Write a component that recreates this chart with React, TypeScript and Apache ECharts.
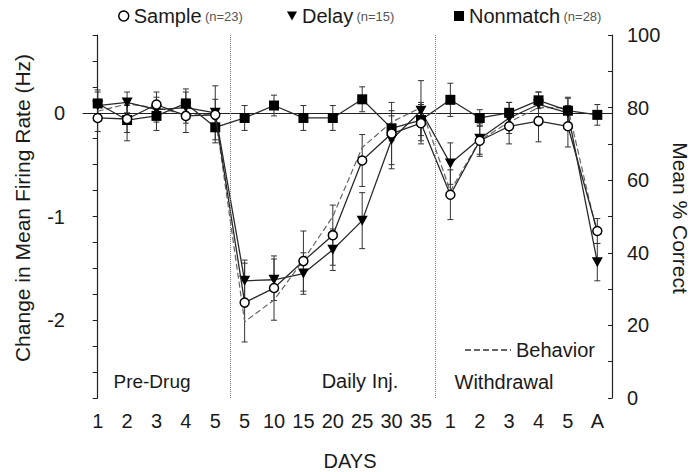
import React, { useEffect, useRef } from 'react';
import * as echarts from 'echarts';

const dayLabels = ['1', '2', '3', '4', '5', '5', '10', '15', '20', '25', '30', '35', '1', '2', '3', '4', '5', 'A'];

const sampleMean = [-0.05, -0.06, 0.08, -0.03, -0.02, -1.83, -1.69, -1.43, -1.18, -0.46, -0.2, -0.1, -0.79, -0.27, -0.13, -0.08, -0.13, -1.14];
const sampleErr = [0.13, 0.13, 0.12, 0.16, 0.15, 0.38, 0.31, 0.29, 0.29, 0.25, 0.3, 0.2, 0.24, 0.15, 0.17, 0.2, 0.2, 0.12];

const delayMean = [0.07, 0.1, 0.03, 0.05, 0.0, -1.62, -1.61, -1.55, -1.32, -1.04, -0.26, 0.02, -0.49, -0.25, -0.05, 0.08, 0.0, -1.44];
const delayErr = [0.13, 0.1, 0.12, 0.15, 0.26, 0.2, 0.2, 0.2, 0.2, 0.27, 0.28, 0.29, 0.2, 0.15, 0.15, 0.12, 0.15, 0.18];

const nonmatchMean = [0.09, -0.07, -0.03, 0.09, -0.14, -0.05, 0.07, -0.05, -0.05, 0.13, -0.15, -0.07, 0.125, -0.05, 0.0, 0.12, 0.02, -0.02];
const nonmatchErr = [0.13, 0.2, 0.14, 0.14, 0.15, 0.12, 0.1, 0.12, 0.12, 0.12, 0.12, 0.15, 0.16, 0.08, 0.1, 0.08, 0.12, 0.1];

const behaviorPct = [79, 81, 80, 78, 78, 21, 27, 38, 50, 69, 76, 80, 57, 71, 76, 80, 80, 45];

const groupNames = ['Sample', 'Delay', 'Nonmatch'];
const groupSizes = [23, 15, 28];
const phaseLabels = ['Pre-Drug', 'Daily Inj.', 'Withdrawal'];
const phaseBreaks = [4.5, 11.5];

const FONT = 'Liberation Sans, Arial, Helvetica, sans-serif';
const INK = '#1a1a1a';
const TRI_DOWN = 'path://M0,0L10,0L5,9Z';

export default function App() {
  const ref = useRef<HTMLDivElement>(null);

  useEffect(() => {
    const chart = echarts.init(ref.current!, null, { renderer: 'svg' });

    const errSeries = (name: string, mean: number[], err: number[]) => ({
      type: 'custom',
      name: name + ' SEM',
      xAxisIndex: 0,
      yAxisIndex: 0,
      z: 1,
      silent: true,
      data: mean.map((m, i) => [i, m - err[i], m + err[i]]),
      encode: { x: 0, y: [1, 2] },
      renderItem: (_p: any, api: any) => {
        const x = api.value(0);
        const lo = api.coord([x, api.value(1)]);
        const hi = api.coord([x, api.value(2)]);
        const c = 3;
        const st = { stroke: '#333', lineWidth: 1 };
        return {
          type: 'group',
          children: [
            { type: 'line', shape: { x1: lo[0], y1: lo[1], x2: hi[0], y2: hi[1] }, style: st },
            { type: 'line', shape: { x1: lo[0] - c, y1: lo[1], x2: lo[0] + c, y2: lo[1] }, style: st },
            { type: 'line', shape: { x1: hi[0] - c, y1: hi[1], x2: hi[0] + c, y2: hi[1] }, style: st },
          ],
        };
      },
    });

    const lineStyle = { color: '#2a2a2a', width: 1.3 };

    const legendFor = (idx: number, left: number, icon: string, itemStyle: any) => ({
      left,
      top: 1,
      itemWidth: 10,
      itemHeight: 10,
      itemGap: 4,
      selectedMode: false,
      data: [{ name: groupNames[idx], icon, itemStyle }],
      formatter: (n: string) => `{n|${n}} {s|(n=${groupSizes[idx]})}`,
      textStyle: {
        color: INK,
        fontFamily: FONT,
        rich: {
          n: { fontSize: 20, fontFamily: FONT, color: INK },
          s: { fontSize: 13, fontFamily: FONT, color: '#555' },
        },
      },
    });

    const option: any = {
      animation: false,
      grid: { left: 83, right: 83, top: 35, bottom: 74, containLabel: false },
      legend: [
        legendFor(0, 113, 'circle', { color: '#fff', borderColor: '#000', borderWidth: 1.5 }),
        legendFor(1, 282, TRI_DOWN, { color: '#000', borderWidth: 0 }),
        legendFor(2, 449, 'rect', { color: '#000', borderWidth: 0 }),
        {
          left: 459,
          top: 335,
          itemWidth: 46,
          itemHeight: 10,
          itemGap: 10,
          selectedMode: false,
          itemStyle: { opacity: 0 },
          data: ['Behavior'],
          textStyle: { fontSize: 20, fontFamily: FONT, color: INK },
        },
      ],
      xAxis: [
        {
          type: 'category',
          data: dayLabels,
          boundaryGap: true,
          axisLine: { lineStyle: { color: '#222', width: 1.2 } },
          axisTick: { alignWithLabel: true, length: 6, lineStyle: { color: '#222' } },
          axisLabel: { interval: 0, fontSize: 20, fontFamily: FONT, color: INK, margin: 13 },
          splitLine: { show: false },
        },
        { type: 'value', min: -0.5, max: 17.5, show: false },
      ],
      yAxis: [
        {
          type: 'value',
          min: -2.75,
          max: 0.75,
          interval: 0.25,
          axisLine: { show: true, lineStyle: { color: '#222', width: 1.2 } },
          axisTick: { show: true, length: 5, lineStyle: { color: '#222' } },
          axisLabel: {
            fontSize: 20,
            fontFamily: FONT,
            color: INK,
            margin: 18,
            formatter: (v: number) => (Math.abs(v - Math.round(v)) < 1e-6 ? String(Math.round(v)) : ''),
          },
          splitLine: { show: false },
        },
        {
          type: 'value',
          position: 'right',
          min: 0,
          max: 100,
          interval: 10,
          axisLine: { show: true, lineStyle: { color: '#222', width: 1.2 } },
          axisTick: { show: true, inside: true, length: 4, lineStyle: { color: '#222' } },
          axisLabel: {
            fontSize: 20,
            fontFamily: FONT,
            color: INK,
            margin: 15,
            formatter: (v: number) => (v % 20 === 0 ? String(v) : ''),
          },
          splitLine: { show: false },
        },
      ],
      graphic: [
        { type: 'text', x: 152, y: 381, style: { text: phaseLabels[0], font: `19px ${FONT}`, fill: INK, align: 'center', verticalAlign: 'middle' } },
        { type: 'text', x: 360, y: 381, style: { text: phaseLabels[1], font: `20px ${FONT}`, fill: INK, align: 'center', verticalAlign: 'middle' } },
        { type: 'text', x: 504, y: 382, style: { text: phaseLabels[2], font: `20px ${FONT}`, fill: INK, align: 'center', verticalAlign: 'middle' } },
        { type: 'text', x: 22, y: 208, rotation: Math.PI / 2, style: { text: 'Change in Mean Firing Rate (Hz)', font: `21px ${FONT}`, fill: INK, align: 'center', verticalAlign: 'middle' } },
        { type: 'text', x: 680, y: 218, rotation: -Math.PI / 2, style: { text: 'Mean % Correct', font: `21px ${FONT}`, fill: INK, align: 'center', verticalAlign: 'middle' } },
        { type: 'text', x: 350, y: 461, style: { text: 'DAYS', font: `20px ${FONT}`, fill: INK, align: 'center', verticalAlign: 'middle' } },
      ],
      series: [
        {
          type: 'line',
          name: 'phase breaks',
          xAxisIndex: 1,
          yAxisIndex: 0,
          data: [],
          silent: true,
          markLine: {
            symbol: 'none',
            silent: true,
            label: { show: false },
            lineStyle: { type: 'dotted', color: '#777', width: 1 },
            data: phaseBreaks.map((b) => ({ xAxis: b })),
          },
        },
        errSeries('Nonmatch', nonmatchMean, nonmatchErr),
        errSeries('Delay', delayMean, delayErr),
        errSeries('Sample', sampleMean, sampleErr),
        {
          type: 'line',
          name: 'Behavior',
          yAxisIndex: 1,
          data: behaviorPct,
          symbol: 'none',
          z: 2,
          lineStyle: { color: '#666', width: 1.2, type: [6, 3] },
          itemStyle: { color: '#666' },
        },
        {
          type: 'line',
          name: 'Nonmatch',
          data: nonmatchMean,
          symbol: 'rect',
          symbolSize: 10,
          z: 3,
          lineStyle,
          itemStyle: { color: '#000', borderWidth: 0 },
        },
        {
          type: 'line',
          name: 'Delay',
          data: delayMean,
          symbol: TRI_DOWN,
          symbolSize: [11, 10],
          z: 3,
          lineStyle,
          itemStyle: { color: '#000', borderWidth: 0 },
        },
        {
          type: 'line',
          name: 'Sample',
          data: sampleMean,
          symbol: 'circle',
          symbolSize: 9,
          z: 4,
          lineStyle,
          itemStyle: { color: '#fff', borderColor: '#000', borderWidth: 1.5 },
        },
      ],
    };

    chart.setOption(option);
    return () => chart.dispose();
  }, []);

  return <div ref={ref} style={{ width: 695, height: 472, position: 'absolute', left: 0, top: 0 }} />;
}
